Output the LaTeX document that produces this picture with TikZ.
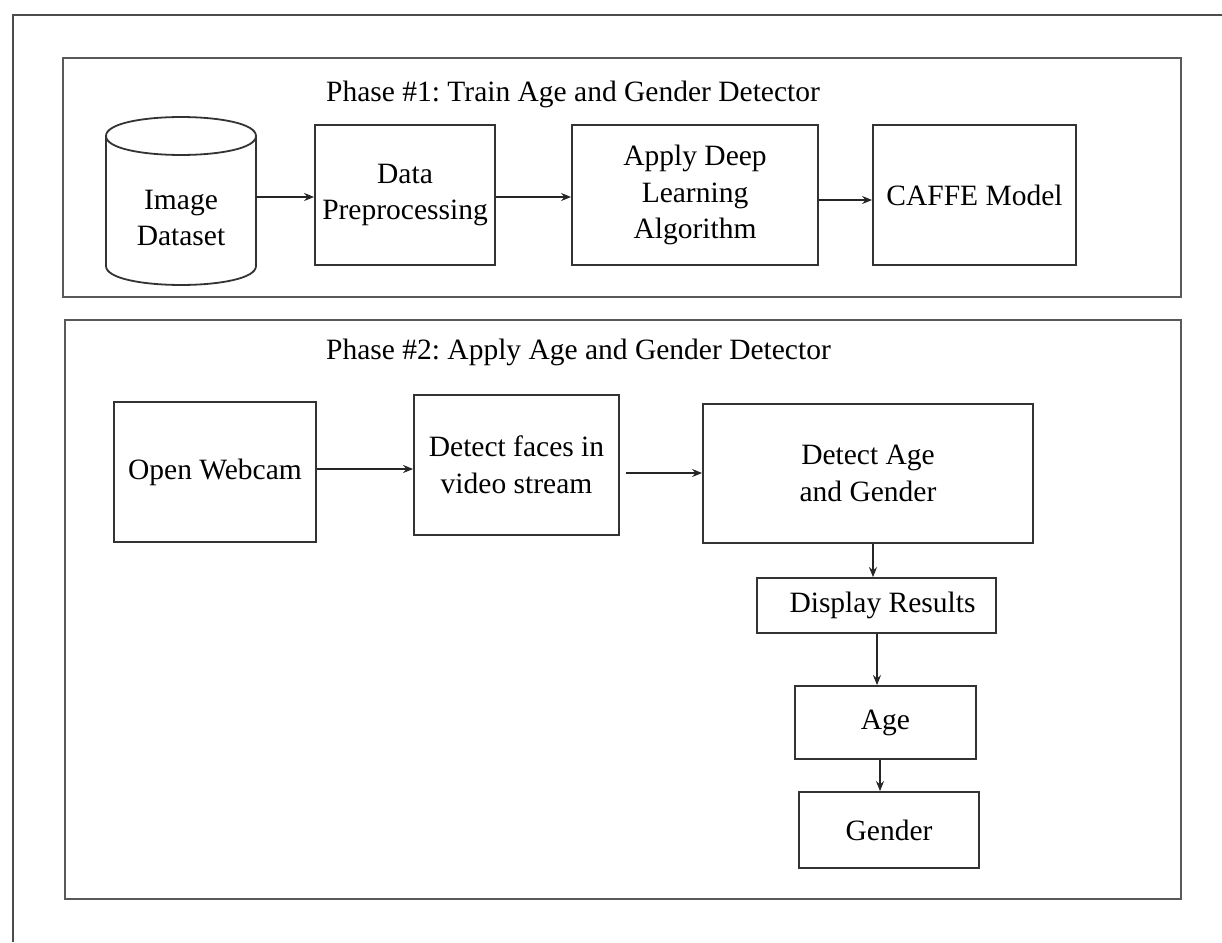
\documentclass[tikz,border=0pt]{standalone}
\usepackage{fontspec}
\setmainfont{Liberation Serif}
\usetikzlibrary{arrows.meta}
\frenchspacing

\tikzset{
  frameline/.style={line width=2pt, draw=black!70},
  phasebox/.style={line width=2.2pt, draw=black!65},
  stepbox/.style={draw=black!80, line width=1.8pt, align=center, inner sep=0pt,
                  font=\fontsize{29.5}{36.5}\selectfont},
  plaintext/.style={inner sep=0pt, align=center, font=\fontsize{29.5}{36.5}\selectfont},
  flow/.style={line width=1.5pt, draw=black!85,
               -{Stealth[length=10pt,width=8pt]}},
}

\begin{document}
\begin{tikzpicture}[x=1pt,y=-1pt]
  \useasboundingbox (0,0) rectangle (1222,942);
  \fill[white] (0,0) rectangle (1222,942);

  % outer frame (top and left edges)
  \draw[frameline] (1222,15) -- (13,15) -- (13,942);

  % phase panels
  \draw[phasebox] (63,58) rectangle (1181,297);
  \draw[phasebox] (65,320) rectangle (1181,899);

  \node[plaintext, anchor=west] (t1) at (326,94) {Phase \#1: Train Age and Gender Detector};
  \node[plaintext, anchor=west] (t2) at (326,352) {Phase \#2: Apply Age and Gender Detector};

  % ---------- phase 1 ----------
  % image dataset cylinder
  \node[plaintext, minimum width=150pt, minimum height=168pt] (img) at (181,218) {Image\\Dataset};
  \draw[draw=black!80, line width=1.8pt]
    (106,136) .. controls (106,110.7) and (256,110.7) .. (256,136)
              .. controls (256,161.3) and (106,161.3) .. (106,136)
    -- (106,266) .. controls (106,291.3) and (256,291.3) .. (256,266)
    -- (256,136);

  \node[stepbox, minimum width=180pt, minimum height=140pt] (pre) at (405,195) {Data\\Preprocessing};
  \node[stepbox, minimum width=246pt, minimum height=140pt] (dl) at (695,195) {Apply Deep\\Learning\\Algorithm};
  \node[stepbox, minimum width=203pt, minimum height=140pt] (caffe) at (974.5,195) {CAFFE Model};

  \draw[flow] (img.east |- 0,197) -- (pre.west |- 0,197);
  \draw[flow] (pre.east |- 0,197) -- (dl.west |- 0,197);
  \draw[flow] (dl.east |- 0,200) -- (caffe.west |- 0,200);

  % ---------- phase 2 ----------
  \node[stepbox, minimum width=202pt, minimum height=140pt] (cam) at (215,472) {Open Webcam};
  \node[stepbox, minimum width=205pt, minimum height=140pt] (faces) at (516.5,465) {Detect faces in\\video stream};
  \node[stepbox, minimum width=330pt, minimum height=139pt] (agegen) at (868,473.5) {Detect Age\\and Gender};
  \node[stepbox, minimum width=239pt, minimum height=55pt] (disp) at (876.5,605.5) {\hspace*{12pt}Display Results};
  \node[stepbox, minimum width=181pt, minimum height=73pt] (age) at (885.5,722.5) {Age};
  \node[stepbox, minimum width=180pt, minimum height=76pt] (gender) at (889,830) {Gender};

  \coordinate (fstart) at ([xshift=6pt]faces.east |- 0,473);
  \draw[flow] (cam.east |- 0,469) -- (faces.west |- 0,469);
  \draw[flow] (fstart) -- (agegen.west |- 0,473);
  \draw[flow] (agegen.south -| 873,0) -- (disp.north -| 873,0);
  \draw[flow] (disp.south -| 877,0) -- (age.north -| 877,0);
  \draw[flow] (age.south -| 880,0) -- (gender.north -| 880,0);
\end{tikzpicture}
\end{document}
